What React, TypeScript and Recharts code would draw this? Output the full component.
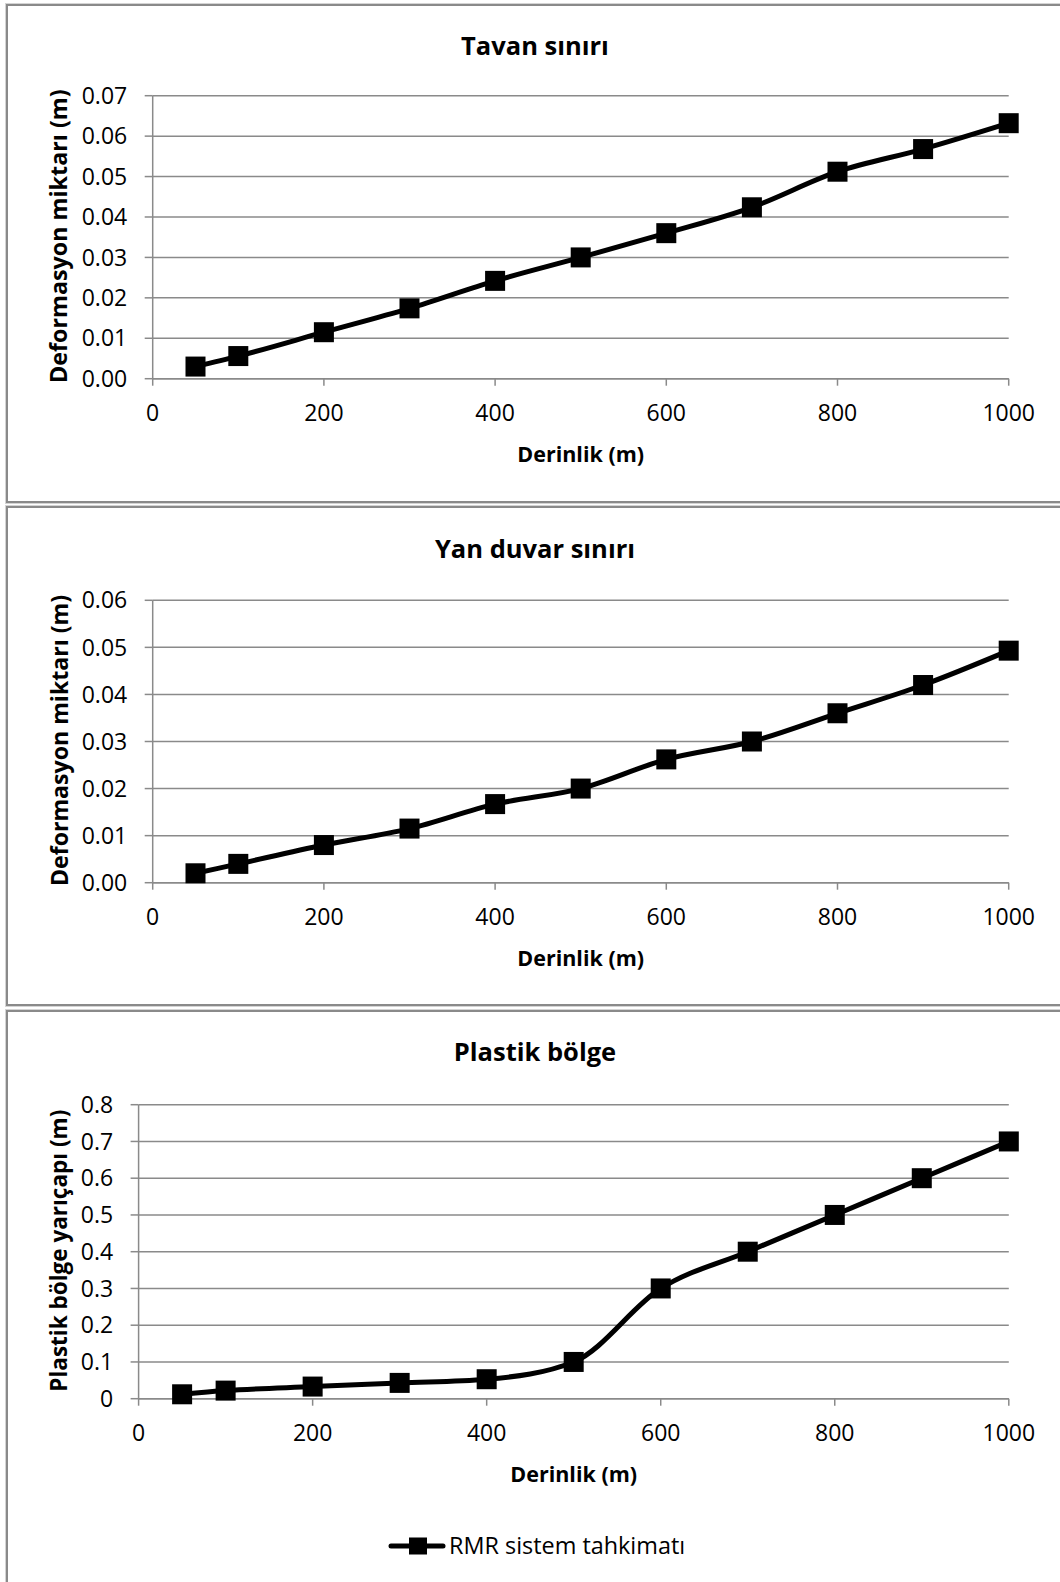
import React from 'react';
import { LineChart, Line, XAxis, YAxis, CartesianGrid, Label, Legend } from 'recharts';

// ---- data ----
const depths = [50, 100, 200, 300, 400, 500, 600, 700, 800, 900, 1000];
const tavanValues = [0.003, 0.0056, 0.0115, 0.0174, 0.0242, 0.03, 0.036, 0.0424, 0.0512, 0.0568, 0.0632];
const yanDuvarValues = [0.002, 0.004, 0.008, 0.0115, 0.0167, 0.02, 0.0262, 0.03, 0.036, 0.042, 0.0493];
const plastikValues = [0.012, 0.022, 0.033, 0.043, 0.053, 0.1, 0.3, 0.4, 0.5, 0.6, 0.7];

const xTicks = [0, 200, 400, 600, 800, 1000];
const yTicksTavan = [0, 0.01, 0.02, 0.03, 0.04, 0.05, 0.06, 0.07];
const yLabelsTavan = ['0.00', '0.01', '0.02', '0.03', '0.04', '0.05', '0.06', '0.07'];
const yTicksYan = [0, 0.01, 0.02, 0.03, 0.04, 0.05, 0.06];
const yLabelsYan = ['0.00', '0.01', '0.02', '0.03', '0.04', '0.05', '0.06'];
const yTicksPlastik = [0, 0.1, 0.2, 0.3, 0.4, 0.5, 0.6, 0.7, 0.8];
const yLabelsPlastik = ['0', '0.1', '0.2', '0.3', '0.4', '0.5', '0.6', '0.7', '0.8'];

const titles = ['Tavan sınırı', 'Yan duvar sınırı', 'Plastik bölge'];
const yTitles = ['Deformasyon miktarı (m)', 'Deformasyon miktarı (m)', 'Plastik bölge yarıçapı (m)'];
const xTitle = 'Derinlik (m)';
const seriesName = 'RMR sistem tahkimatı';

const FONT = '"Open Sans", "Noto Sans", sans-serif';
const GRID = '#8a8a8a';
const W = 1060;

type Cfg = {
  values: number[];
  yTicks: number[];
  yLabels: string[];
  yMax: number;
  yTitle: string;
  yTitleSize: number;
  top: number;
  height: number;
  plotLeft: number;
  plotRight: number;
  plotTop: number;
  plotBottom: number;
  legend?: boolean;
};

const configs: Cfg[] = [
  { values: tavanValues, yTicks: yTicksTavan, yLabels: yLabelsTavan, yMax: 0.07, yTitle: yTitles[0], yTitleSize: 23.3,
    top: 0, height: 505, plotLeft: 152.7, plotRight: 1008.7, plotTop: 95.7, plotBottom: 378.7 },
  { values: yanDuvarValues, yTicks: yTicksYan, yLabels: yLabelsYan, yMax: 0.06, yTitle: yTitles[1], yTitleSize: 23.1,
    top: 505, height: 500, plotLeft: 152.7, plotRight: 1008.7, plotTop: 95.3, plotBottom: 377.7 },
  { values: plastikValues, yTicks: yTicksPlastik, yLabels: yLabelsPlastik, yMax: 0.8, yTitle: yTitles[2], yTitleSize: 22.5,
    top: 1008, height: 574, plotLeft: 138.6, plotRight: 1008.8, plotTop: 96.7, plotBottom: 390.7, legend: true },
];

const renderSquare = (p: any) => (
  <rect key={`sq-${p.index}`} x={p.cx - 10} y={p.cy - 10} width={20} height={20} fill="#000" />
);

const LegendContent = () => (
  <svg width={330} height={30} style={{ display: 'block', overflow: 'visible' }}>
    <line x1={1} y1={15} x2={53} y2={15} stroke="#000" strokeWidth={5} strokeLinecap="round" />
    <rect x={19} y={6.5} width={18} height={17} fill="#000" />
    <text x={59} y={23} fontSize={23.4} fontFamily={FONT} fill="#000">{seriesName}</text>
  </svg>
);

function Panel({ cfg }: { cfg: Cfg }) {
  const data = depths.map((d, i) => ({ depth: d, value: cfg.values[i] }));
  const cx = (cfg.plotLeft + cfg.plotRight) / 2;
  const cy = (cfg.plotTop + cfg.plotBottom) / 2 - 1;
  const yIdx = (v: number) => {
    const i = cfg.yTicks.findIndex((t) => Math.abs(t - v) < 1e-9);
    return i >= 0 ? cfg.yLabels[i] : String(v);
  };
  return (
    <div style={{ position: 'absolute', left: 0, top: cfg.top, width: W, height: cfg.height }}>
      <LineChart
        width={W}
        height={cfg.height}
        data={data}
        margin={{ top: cfg.plotTop, right: W - cfg.plotRight, bottom: 0, left: 0 }}
      >
        <CartesianGrid horizontal vertical={false} stroke={GRID} strokeWidth={1.5} />
        <XAxis
          type="number"
          dataKey="depth"
          domain={[0, 1000]}
          ticks={xTicks}
          interval={0}
          height={cfg.height - cfg.plotBottom}
          tickSize={7}
          tickMargin={19}
          axisLine={{ stroke: GRID, strokeWidth: 1.5 }}
          tickLine={{ stroke: GRID, strokeWidth: 1.5 }}
          tick={{ fill: '#000', fontSize: 23, fontFamily: FONT }}
        >
          <Label
            content={() => (
              <text x={cx} y={cfg.plotBottom + 83} textAnchor="middle" fontSize={21.5} fontWeight="bold" fontFamily={FONT} fill="#000">
                {xTitle}
              </text>
            )}
          />
        </XAxis>
        <YAxis
          type="number"
          domain={[0, cfg.yMax]}
          ticks={cfg.yTicks}
          interval={0}
          width={cfg.plotLeft}
          tickSize={8}
          tickMargin={17.5}
          tickFormatter={yIdx}
          axisLine={{ stroke: GRID, strokeWidth: 1.5 }}
          tickLine={{ stroke: GRID, strokeWidth: 1.5 }}
          tick={{ fill: '#000', fontSize: 23, fontFamily: FONT }}
        >
          <Label
            content={() => (
              <text
                x={58.5}
                y={cy}
                transform={`rotate(-90, 58.5, ${cy})`}
                textAnchor="middle"
                dominantBaseline="central"
                fontSize={cfg.yTitleSize}
                fontWeight="bold"
                fontFamily={FONT}
                fill="#000"
              >
                {cfg.yTitle}
              </text>
            )}
          />
        </YAxis>
        <Line
          type="monotone"
          dataKey="value"
          name={seriesName}
          stroke="#000"
          strokeWidth={5}
          strokeLinejoin="round"
          dot={renderSquare}
          activeDot={false}
          isAnimationActive={false}
        />
        {cfg.legend && (
          <Legend
            layout="horizontal"
            verticalAlign="middle"
            align="center"
            wrapperStyle={{ left: 390, top: 523, width: 330, height: 30 }}
            content={() => <LegendContent />}
          />
        )}
      </LineChart>
    </div>
  );
}

const panelBoxes = [
  { top: 4, height: 499 },
  { top: 506, height: 500 },
  { top: 1010, height: 600 },
];
const titleBaselines = [54.5, 558, 1061];

export default function App() {
  return (
    <div style={{ position: 'absolute', left: 0, top: 0, width: W, height: 1582, overflow: 'hidden', background: '#fff' }}>
      {panelBoxes.map((b, i) => (
        <div
          key={`box-${i}`}
          style={{
            position: 'absolute',
            left: 6,
            top: b.top,
            width: 1060,
            height: b.height,
            border: `2px solid ${GRID}`,
            boxSizing: 'border-box',
            boxShadow: '0 0 0 1px #d4d4d4',
          }}
        />
      ))}
      {configs.map((c, i) => (
        <Panel key={`panel-${i}`} cfg={c} />
      ))}
      <svg width={W} height={1582} style={{ position: 'absolute', left: 0, top: 0, pointerEvents: 'none' }}>
        {titles.map((t, i) => (
          <text key={`t-${i}`} x={535} y={titleBaselines[i]} textAnchor="middle" fontSize={25.5} fontWeight="bold" fontFamily={FONT} fill="#000">
            {t}
          </text>
        ))}
      </svg>
    </div>
  );
}
